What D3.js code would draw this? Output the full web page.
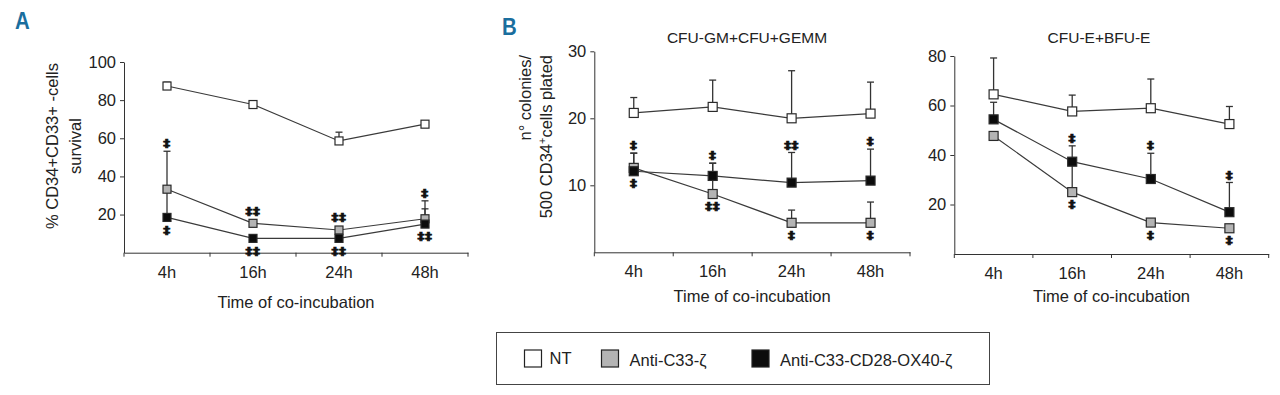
<!DOCTYPE html>
<html>
<head>
<meta charset="utf-8">
<script src="https://cdn.jsdelivr.net/npm/d3@7"></script>
<style>
  body { margin: 0; background: #fff; }
  svg text { font-family: "Liberation Sans", Arial, sans-serif; fill: #222; }
</style>
</head>
<body>
<svg id="chart" width="1280" height="395"></svg>
<script>
// categories
const times = ["4h", "16h", "24h", "48h"];

// panel A : % CD34+CD33+ cells survival
const aNT = [87.4, 77.7, 58.6, 67.4];
const aNTsd = [2.0, 0, 4.6, 0];
const aC33 = [33.3, 15.4, 11.9, 17.8];
const aC33sd = [19.9, 0, 0, 9.4];
const aOX = [18.5, 7.5, 7.5, 15.0];
const aOXsd = [14.8, 0, 0, 8.0];
const aTicks = [20, 40, 60, 80, 100];
const aStarsUp = ["‡", "‡‡", "‡‡", "‡"];
const aStarsDown = ["‡", "‡‡", "‡‡", "‡‡"];

// panel B left : CFU-GM+CFU+GEMM
const gmNT = [20.8, 21.7, 20.0, 20.7];
const gmNTsd = [2.3, 4.0, 7.1, 4.7];
const gmC33 = [12.6, 8.7, 4.4, 4.4];
const gmC33sd = [2.2, 4.6, 1.9, 3.1];
const gmOX = [12.1, 11.4, 10.4, 10.7];
const gmOXsd = [2.7, 1.9, 4.5, 4.7];
const gmTicks = [10, 20, 30];
const gmStarsUp = ["‡", "‡", "‡‡", "‡"];
const gmStarsDown = ["‡", "‡‡", "‡", "‡"];

// panel B right : CFU-E+BFU-E
const eNT = [64.5, 57.6, 58.9, 52.5];
const eNTsd = [14.7, 6.6, 11.8, 7.1];
const eC33 = [47.7, 25.0, 12.7, 10.4];
const eC33sd = [0, 12.3, 0, 0];
const eOX = [54.4, 37.3, 30.3, 16.9];
const eOXsd = [6.9, 6.4, 10.4, 12.0];
const eTicks = [20, 40, 60, 80];
const eStarsUp = ["", "‡", "‡", "‡"];
const eStarsDown = ["", "‡", "‡", "‡"];

const seriesNames = ["NT", "Anti-C33-ζ", "Anti-C33-CD28-OX40-ζ"];
const fills = ["#ffffff", "#b4b4b4", "#0c0c0c"];

const svg = d3.select("#chart");

function drawPanel(p){
    let g = svg.append("g");
    let x = d3.scaleBand().domain(times).range([p.x0, p.x1]);
    let y = d3.scaleLinear().domain([0, p.max]).range([p.yb, p.yt]);

    // axes
    g.append("g")
    .attr("transform", "translate(0," + p.yb + ")")
    .call(d3.axisBottom(x).tickSize(0).tickPadding(0).tickFormat(""))
    .call(a => a.select(".domain").attr("stroke", "#333"));
    g.append("g")
    .selectAll("line")
    .data(d3.range(times.length + 1))
    .enter()
    .append("line")
    .attr("x1", function(d){ return p.x0 + d * x.step();})
    .attr("x2", function(d){ return p.x0 + d * x.step();})
    .attr("y1", p.yb)
    .attr("y2", p.yb + 4)
    .attr("stroke", "#333");
    g.selectAll(".xl")
    .data(times)
    .enter()
    .append("text")
    .attr("x", function(d){ return x(d) + x.bandwidth()/2;})
    .attr("y", p.yb + 25)
    .attr("text-anchor", "middle")
    .style("font-size", "16.5px")
    .text(function(d){ return d;});

    let ya = g.append("g")
    .attr("transform", "translate(" + p.x0 + ",0)")
    .call(d3.axisLeft(y).tickValues(p.ticks).tickSize(4).tickPadding(4).tickSizeOuter(0));
    ya.select(".domain").attr("stroke", "#333");
    ya.selectAll(".tick line").attr("stroke", "#333");
    ya.selectAll(".tick text")
    .style("font-size", "16.5px")
    .style("font-family", "'Liberation Sans', Arial, sans-serif")
    .attr("fill", "#222");

    // lines
    let line = d3.line()
    .x(function(d, i){ return x(times[i]) + x.bandwidth()/2;})
    .y(function(d){ return y(d);});
    p.series.forEach(function(s){
        g.append("path")
        .attr("d", line(s.v))
        .attr("fill", "none")
        .attr("stroke", "#3a3a3a")
        .attr("stroke-width", 1.2);
    });

    // error bars (upper only)
    p.series.forEach(function(s){
        let pts = s.v.map(function(v, i){ return {v: v, sd: s.sd[i], t: times[i]};})
        .filter(function(d){ return d.sd > 0;});
        g.selectAll(null)
        .data(pts)
        .enter()
        .append("line")
        .attr("x1", function(d){ return x(d.t) + x.bandwidth()/2;})
        .attr("x2", function(d){ return x(d.t) + x.bandwidth()/2;})
        .attr("y1", function(d){ return y(d.v);})
        .attr("y2", function(d){ return y(d.v + d.sd);})
        .attr("stroke", "#333")
        .attr("stroke-width", 1.3);
        g.selectAll(null)
        .data(pts)
        .enter()
        .append("line")
        .attr("x1", function(d){ return x(d.t) + x.bandwidth()/2 - 3.5;})
        .attr("x2", function(d){ return x(d.t) + x.bandwidth()/2 + 3.5;})
        .attr("y1", function(d){ return y(d.v + d.sd);})
        .attr("y2", function(d){ return y(d.v + d.sd);})
        .attr("stroke", "#333")
        .attr("stroke-width", 1.3);
    });

    // markers
    p.series.forEach(function(s, k){
        let m = p.msize;
        g.selectAll(null)
        .data(s.v)
        .enter()
        .append("rect")
        .attr("x", function(d, i){ return x(times[i]) + x.bandwidth()/2 - m/2;})
        .attr("y", function(d){ return y(d) - m/2;})
        .attr("width", m)
        .attr("height", m)
        .attr("fill", fills[k])
        .attr("stroke", "#2a2a2a")
        .attr("stroke-width", 1.2);
    });

    // significance marks
    times.forEach(function(t, i){
        let cx = x(t) + x.bandwidth()/2;
        let tops = [p.series[1], p.series[2]].map(function(s){
            return Math.min(y(s.v[i] + s.sd[i]) - 7, y(s.v[i]) - 12);
        });
        let bots = [p.series[1], p.series[2]].map(function(s){ return y(s.v[i]) + 13;});
        [[d3.min(tops), p.up[i]], [d3.max(bots), p.down[i]]].forEach(function(st){
            if(st[1] === "") return;
            g.append("text")
            .attr("transform", "translate(" + cx + "," + st[0] + ") scale(1.15,0.8)")
            .attr("text-anchor", "middle").attr("dominant-baseline", "central")
            .style("font-size", "12px").style("font-weight", "bold")
            .style("font-family", "'DejaVu Sans', sans-serif")
            .style("fill", "#111").style("stroke", "#111").style("stroke-width", 0.8)
            .style("letter-spacing", "0.5px")
            .text(st[1]);
        });
    });

    // titles
    g.append("text")
    .attr("x", (p.x0 + p.x1)/2)
    .attr("y", p.xTitleY)
    .attr("text-anchor", "middle")
    .style("font-size", "16.5px")
    .text("Time of co-incubation");
    if(p.title){
        g.append("text")
        .attr("x", p.titleX)
        .attr("y", 43)
        .attr("text-anchor", "middle")
        .style("font-size", "15.5px")
        .text(p.title);
    }
    return g;
}

let gA = drawPanel({x0: 124, x1: 468, yt: 62, yb: 252.7, max: 100, ticks: aTicks, msize: 8,
    series: [{v: aNT, sd: aNTsd}, {v: aC33, sd: aC33sd}, {v: aOX, sd: aOXsd}],
    up: aStarsUp, down: aStarsDown, xTitleY: 308});
let gB1 = drawPanel({x0: 594.3, x1: 910, yt: 51.3, yb: 252.3, max: 30, ticks: gmTicks, msize: 9,
    series: [{v: gmNT, sd: gmNTsd}, {v: gmC33, sd: gmC33sd}, {v: gmOX, sd: gmOXsd}],
    up: gmStarsUp, down: gmStarsDown, xTitleY: 302, title: "CFU-GM+CFU+GEMM", titleX: 747});
let gB2 = drawPanel({x0: 954.3, x1: 1268.7, yt: 56, yb: 254, max: 80, ticks: eTicks, msize: 9,
    series: [{v: eNT, sd: eNTsd}, {v: eC33, sd: eC33sd}, {v: eOX, sd: eOXsd}],
    up: eStarsUp, down: eStarsDown, xTitleY: 302, title: "CFU-E+BFU-E", titleX: 1099});

// y axis labels
gA.append("text")
.attr("transform", "translate(58,146) rotate(-90)")
.attr("text-anchor", "middle")
.style("font-size", "16.5px")
.text("% CD34+CD33+ -cells");
gA.append("text")
.attr("transform", "translate(81,146) rotate(-90)")
.attr("text-anchor", "middle")
.style("font-size", "16.5px")
.text("survival");
gB1.append("text")
.attr("transform", "translate(531,55) rotate(-90)")
.attr("text-anchor", "end")
.style("font-size", "16.5px")
.text("n° colonies/");
let yl = gB1.append("text")
.attr("transform", "translate(552,55) rotate(-90)")
.attr("text-anchor", "end")
.style("font-size", "16.5px");
yl.append("tspan").text("500 CD34");
yl.append("tspan").attr("dy", -6).style("font-size", "11px").text("+");
yl.append("tspan").attr("dy", 6).text("cells plated");

// panel letters (narrowed)
svg.append("text").attr("transform", "translate(15,29) scale(0.85,1)")
.style("font-size", "24px").style("font-weight", "bold")
.style("fill", "#1a6e9e").text("A");
svg.append("text").attr("transform", "translate(502,35) scale(0.85,1)")
.style("font-size", "24px").style("font-weight", "bold")
.style("fill", "#1a6e9e").text("B");

// legend
let leg = svg.append("g");
leg.append("rect")
.attr("x", 496.5).attr("y", 332.5).attr("width", 493).attr("height", 52)
.attr("fill", "none").attr("stroke", "#444").attr("stroke-width", 1);
let legX = [524.5, 601.5, 752];
leg.selectAll("rect.k")
.data(seriesNames)
.enter()
.append("rect")
.attr("class", "k")
.attr("x", function(d, i){ return legX[i];})
.attr("y", 350)
.attr("width", 17).attr("height", 17)
.attr("fill", function(d, i){ return fills[i];})
.attr("stroke", "#222").attr("stroke-width", 1.2);
leg.selectAll("text")
.data(seriesNames)
.enter()
.append("text")
.attr("x", function(d, i){ return legX[i] + (i == 0 ? 25 : 28);})
.attr("y", function(d, i){ return i == 0 ? 364 : 366;})
.style("font-size", "16.5px")
.text(function(d){ return d;});
</script>
</body>
</html>
